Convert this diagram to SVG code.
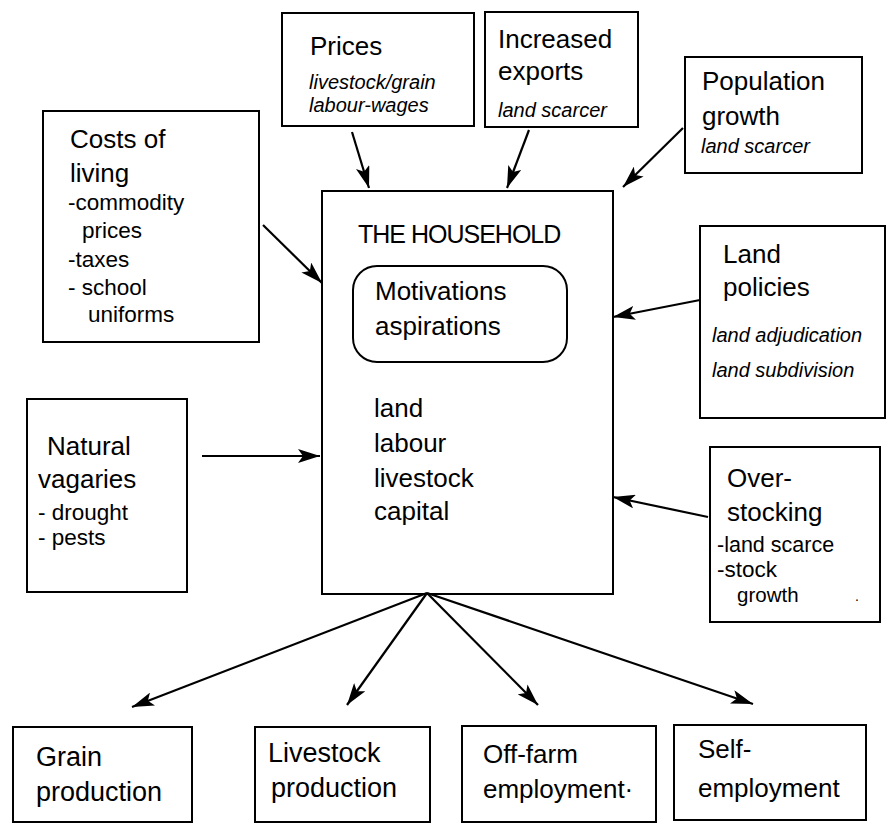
<svg xmlns="http://www.w3.org/2000/svg" width="888" height="825" viewBox="0 0 888 825">
<style>
.box{fill:#fff;stroke:#000;stroke-width:2}
.m{font-family:"Liberation Sans",Arial,sans-serif;font-size:26px;fill:#000}
.s{font-family:"Liberation Sans",Arial,sans-serif;font-size:22.5px;fill:#000}
.i{font-family:"Liberation Sans",Arial,sans-serif;font-size:20px;font-style:italic;fill:#000}
.c{stroke:#000;stroke-width:2.2;fill:none;marker-end:url(#ah)}
</style>
<defs>
<marker id="ah" viewBox="0 0 22 14" refX="22" refY="7" markerWidth="22" markerHeight="14" orient="auto" markerUnits="userSpaceOnUse">
<path d="M0,0 L22,7 L0,14 L5,7 z" fill="#000"/>
</marker>
</defs>
<rect width="888" height="825" fill="#fff"/>

<g id="prices">
<rect class="box" x="282" y="13" width="192" height="113"/>
<text class="m" x="310" y="55">Prices</text>
<text class="i" x="309" y="89">livestock/grain</text>
<text class="i" x="309" y="112">labour-wages</text>
</g>

<g id="exports">
<rect class="box" x="485" y="12" width="153" height="115"/>
<text class="m" x="498" y="48">Increased</text>
<text class="m" x="498" y="80">exports</text>
<text class="i" x="498" y="117">land scarcer</text>
</g>

<g id="population">
<rect class="box" x="685" y="57" width="177" height="116"/>
<text class="m" x="702" y="90">Population</text>
<text class="m" x="702" y="125">growth</text>
<text class="i" x="701" y="153">land scarcer</text>
</g>

<g id="costs">
<rect class="box" x="43" y="111" width="216" height="231"/>
<text class="m" x="70" y="148">Costs of</text>
<text class="m" x="70" y="182">living</text>
<text class="s" x="68" y="210">-commodity</text>
<text class="s" x="82" y="238">prices</text>
<text class="s" x="68" y="267">-taxes</text>
<text class="s" x="68" y="295">- school</text>
<text class="s" x="88" y="322">uniforms</text>
</g>

<g id="household">
<rect class="box" x="322" y="191" width="291" height="403"/>
<text class="m" x="358" y="243" style="font-size:25px;letter-spacing:-1px">THE HOUSEHOLD</text>
<rect class="box" x="353" y="266" width="214" height="96" rx="24" ry="24"/>
<text class="m" x="375" y="300">Motivations</text>
<text class="m" x="375" y="335">aspirations</text>
<text class="m" x="374" y="417">land</text>
<text class="m" x="374" y="452">labour</text>
<text class="m" x="374" y="487">livestock</text>
<text class="m" x="374" y="520">capital</text>
</g>

<g id="landpolicies">
<rect class="box" x="700" y="226" width="185" height="192"/>
<text class="m" x="723" y="263">Land</text>
<text class="m" x="723" y="296">policies</text>
<text class="i" x="712" y="342">land adjudication</text>
<text class="i" x="712" y="377">land subdivision</text>
</g>

<g id="natural">
<rect class="box" x="27" y="399" width="160" height="193"/>
<text class="m" x="47" y="455">Natural</text>
<text class="m" x="38" y="488">vagaries</text>
<text class="s" x="38" y="520">- drought</text>
<text class="s" x="38" y="545">- pests</text>
</g>

<g id="overstocking">
<rect class="box" x="710" y="447" width="170" height="175"/>
<text class="m" x="727" y="487">Over-</text>
<text class="m" x="727" y="521">stocking</text>
<text class="s" x="717" y="552" style="font-size:21.5px">-land scarce</text>
<text class="s" x="717" y="577">-stock</text>
<text class="s" x="737" y="602" style="font-size:20.5px">growth</text>
<text class="s" x="855" y="601" style="font-size:14px">.</text>
</g>

<g id="grain">
<rect class="box" x="13" y="727" width="179" height="95"/>
<text class="m" x="36" y="766" style="font-size:27px">Grain</text>
<text class="m" x="36" y="801" style="font-size:27px">production</text>
</g>

<g id="livestockprod">
<rect class="box" x="255" y="727" width="175" height="95"/>
<text class="m" x="268" y="762" style="font-size:27px">Livestock</text>
<text class="m" x="271" y="797" style="font-size:27px">production</text>
</g>

<g id="offfarm">
<rect class="box" x="462" y="726" width="194" height="96"/>
<text class="m" x="483" y="763">Off-farm</text>
<text class="m" x="483" y="798">employment·</text>
</g>

<g id="selfemp">
<rect class="box" x="674" y="725" width="192" height="95"/>
<text class="m" x="698" y="758">Self-</text>
<text class="m" x="698" y="797">employment</text>
</g>

<g id="connectors">
<line class="c" x1="352" y1="132" x2="369" y2="188"/>
<line class="c" x1="529" y1="130" x2="507" y2="188"/>
<line class="c" x1="683" y1="128" x2="623" y2="187"/>
<line class="c" x1="263" y1="225" x2="322" y2="283"/>
<line class="c" x1="700" y1="300" x2="613" y2="317"/>
<line class="c" x1="202" y1="456" x2="320" y2="456"/>
<line class="c" x1="708" y1="517" x2="613" y2="497"/>
<line class="c" x1="427" y1="593" x2="132" y2="707"/>
<line class="c" x1="427" y1="593" x2="347" y2="705"/>
<line class="c" x1="427" y1="593" x2="538" y2="705"/>
<line class="c" x1="427" y1="593" x2="753" y2="704"/>
</g>
</svg>
